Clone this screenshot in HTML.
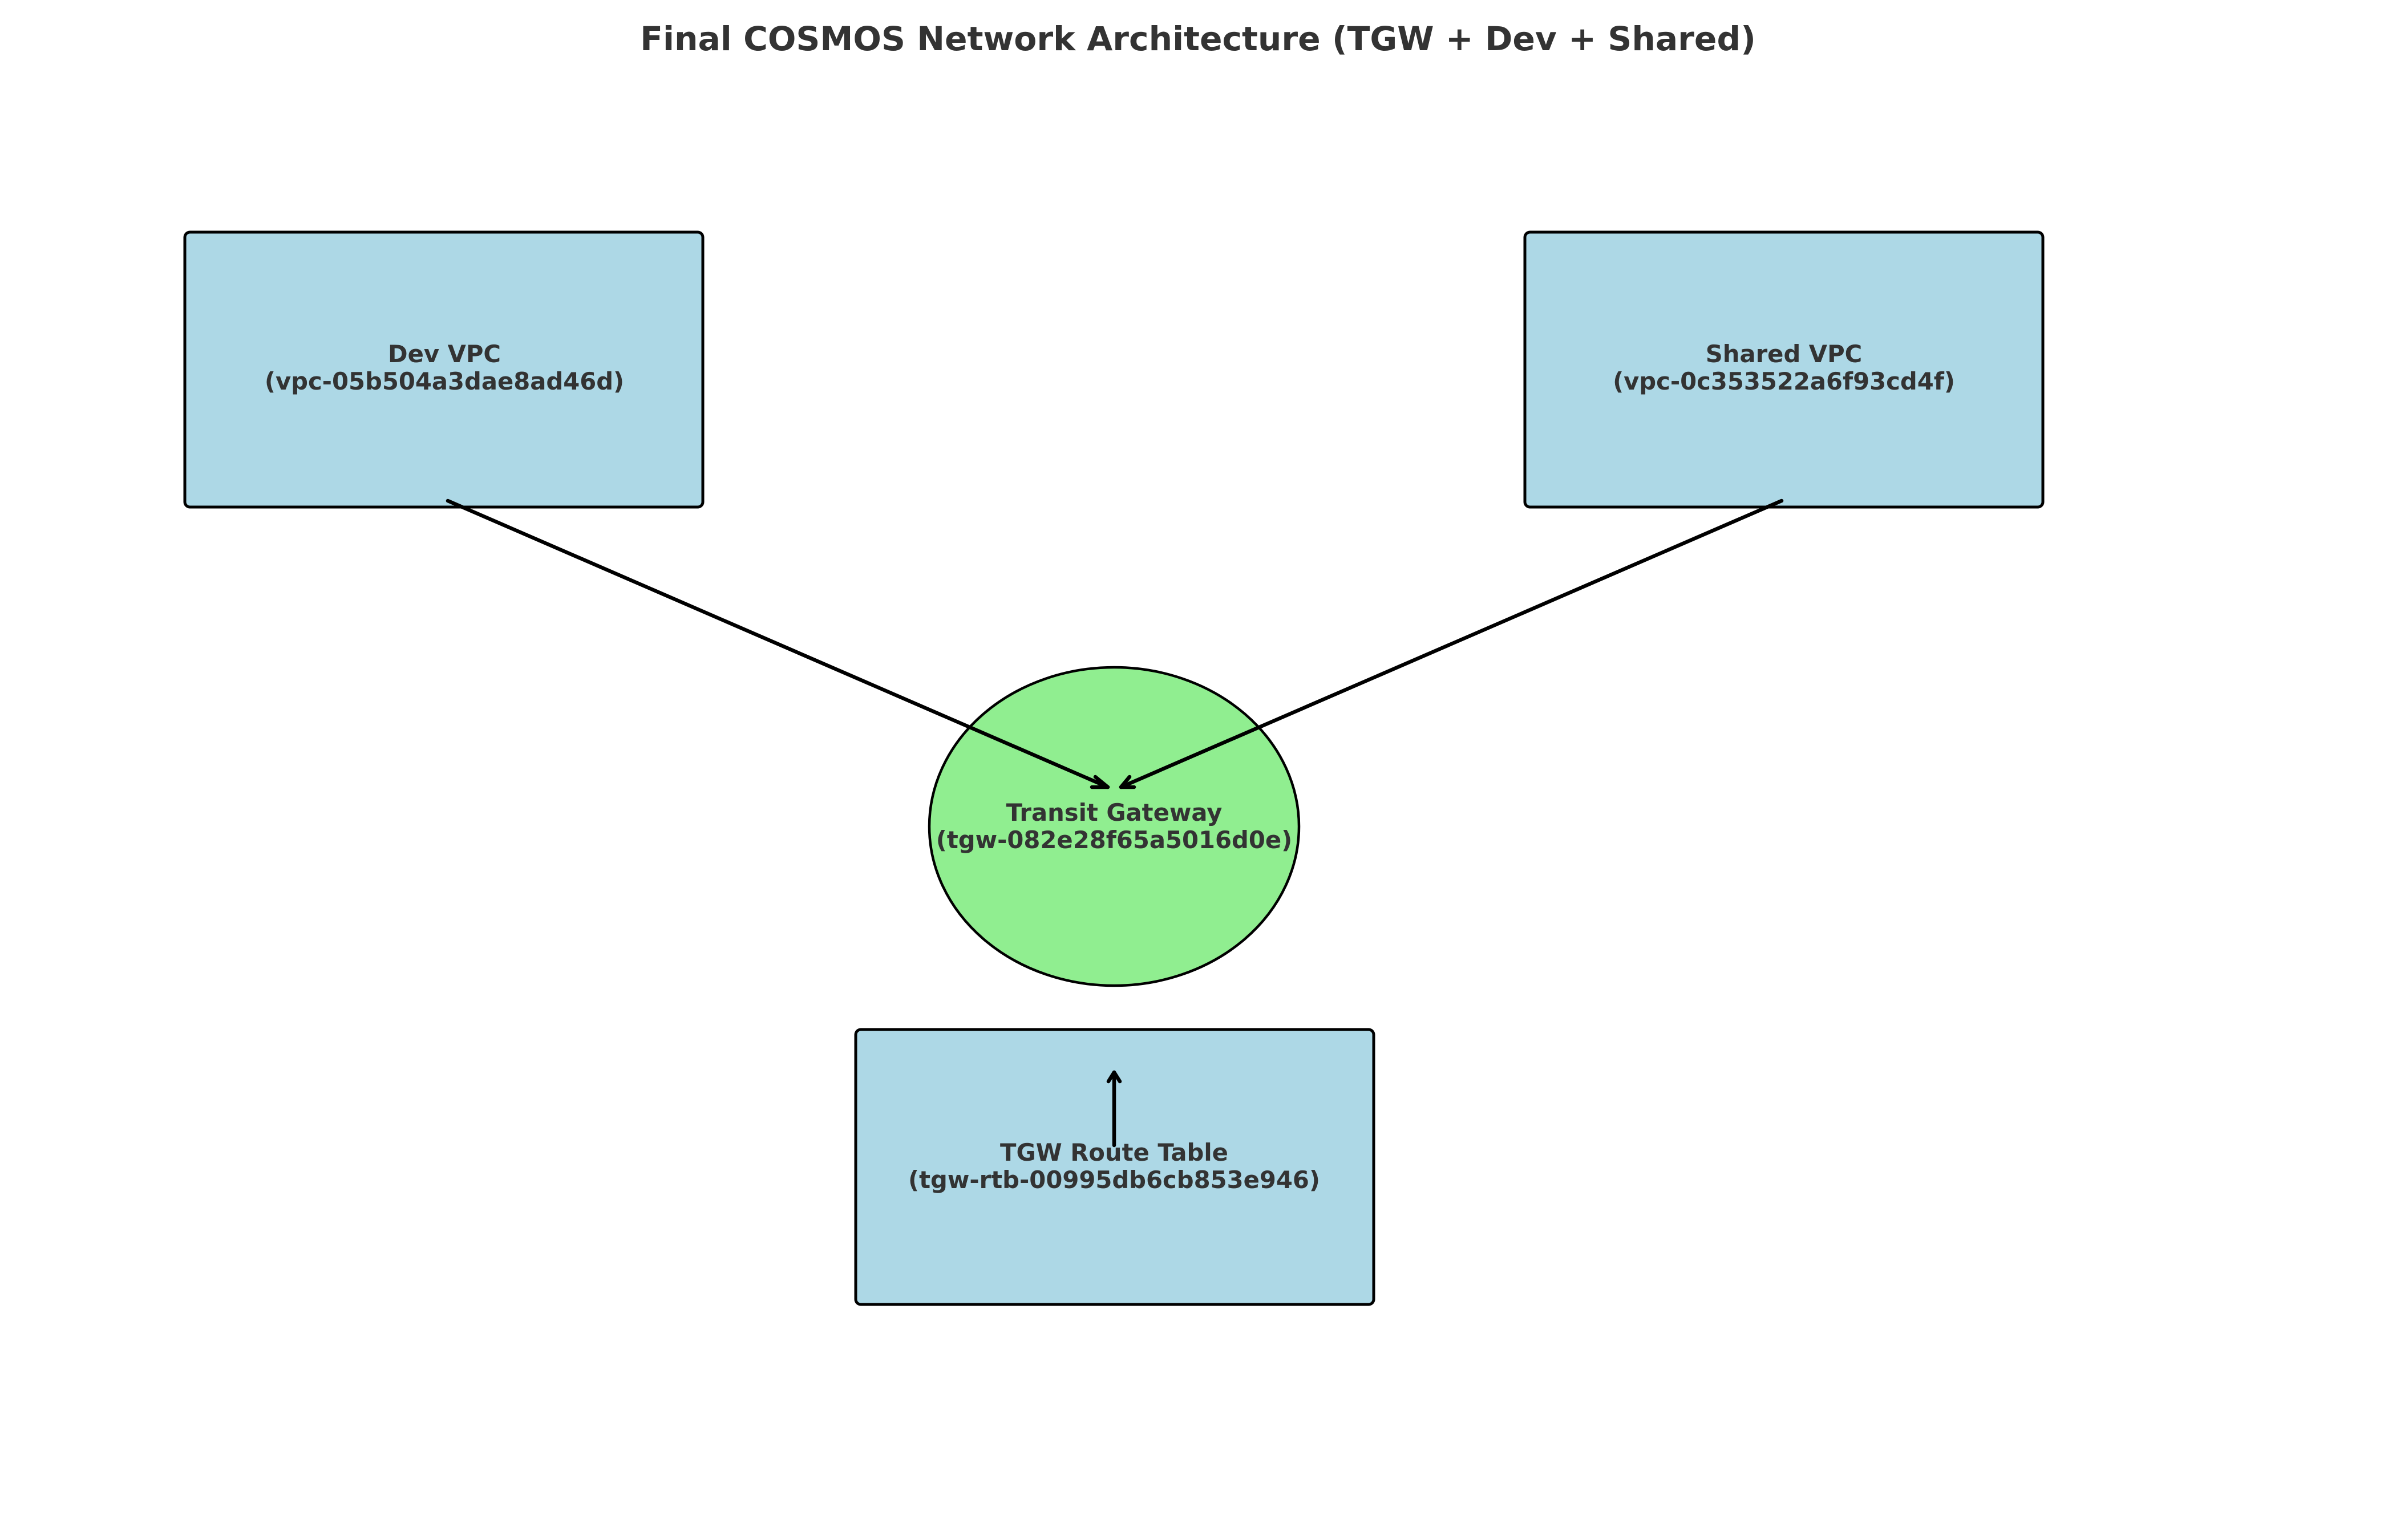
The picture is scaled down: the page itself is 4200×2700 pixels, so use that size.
<!DOCTYPE html>
<html><head><meta charset="utf-8"><style>
html,body{margin:0;padding:0;background:#fff;}
svg{display:block;}
text{font-family:"DejaVu Sans","Liberation Sans",sans-serif;font-weight:bold;fill:#333;}
</style></head><body>
<svg width="4200" height="2700" viewBox="0 0 4200 2700" xmlns="http://www.w3.org/2000/svg">
<text x="2100" y="88" font-size="58.3" text-anchor="middle">Final COSMOS Network Architecture (TGW + Dev + Shared)</text>

<rect x="324" y="407" width="908" height="482" rx="9" fill="#add8e6" stroke="#000" stroke-width="5"/>
<text x="779" y="635" font-size="41.7" text-anchor="middle">Dev VPC</text>
<text x="779" y="683" font-size="41.7" text-anchor="middle">(vpc-05b504a3dae8ad46d)</text>

<rect x="2673" y="407" width="908" height="482" rx="9" fill="#add8e6" stroke="#000" stroke-width="5"/>
<text x="3127" y="635" font-size="41.7" text-anchor="middle">Shared VPC</text>
<text x="3127" y="683" font-size="41.7" text-anchor="middle">(vpc-0c353522a6f93cd4f)</text>

<ellipse cx="1953" cy="1449" rx="324" ry="279" fill="#90ee90" stroke="#000" stroke-width="4.5"/>
<text x="1953" y="1439" font-size="41.7" text-anchor="middle">Transit Gateway</text>
<text x="1953" y="1487" font-size="41.7" text-anchor="middle">(tgw-082e28f65a5016d0e)</text>

<rect x="1500" y="1805" width="908" height="482" rx="9" fill="#add8e6" stroke="#000" stroke-width="5"/>
<text x="1953" y="2035" font-size="41.7" text-anchor="middle">TGW Route Table</text>
<text x="1953" y="2083" font-size="41.7" text-anchor="middle">(tgw-rtb-00995db6cb853e946)</text>

<g stroke="#000" stroke-width="6.5" fill="none" stroke-linecap="round" stroke-linejoin="round">
<line x1="785" y1="878" x2="1942" y2="1380"/>
<polyline points="1920,1362 1942,1380 1914,1380"/>
<line x1="3123" y1="878" x2="1965" y2="1380"/>
<polyline points="1980,1362 1965,1380 1988,1380"/>
<line x1="1953" y1="2008" x2="1953" y2="1880"/>
<polyline points="1943,1896 1953,1880 1963,1896"/>
</g>
</svg>
</body></html>
